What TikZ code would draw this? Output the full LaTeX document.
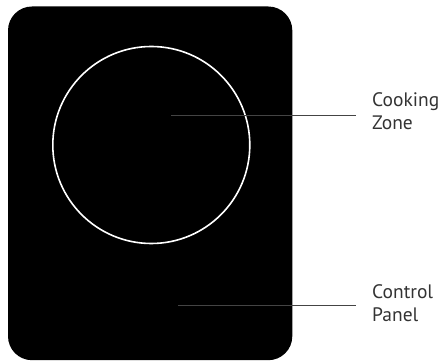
\documentclass[tikz,border=0pt]{standalone}
\usepackage{fontspec}
\setmainfont{PT Sans}
\definecolor{leader}{HTML}{444444}
\definecolor{labeltext}{HTML}{333333}
\begin{document}
\begin{tikzpicture}[x=1pt,y=1pt,
  leaderline/.style={draw=leader,line width=0.9pt},
  calloutlabel/.style={anchor=base west,inner sep=0pt,align=left,text=labeltext,
    font=\fontsize{19.5}{23.3}\selectfont}]
\useasboundingbox (0,0) rectangle (445,361);
% appliance body
\fill[black,rounded corners=24pt] (8,0.8) rectangle (292.3,354.5);
% cooking zone ring
\node[circle,draw=white,line width=1.6pt,minimum size=197pt,inner sep=0pt] (zone) at (151.3,216) {};
% callout labels (anchored at the baseline of their last line)
\node[calloutlabel] (zonelbl) at (372,231) {Cooking\\Zone};
\node[calloutlabel] (panellbl) at (372,39) {Control\\Panel};
% leader lines
\coordinate (zonept) at (171,245.3);
\coordinate (zoneend) at (356,245.3);
\coordinate (panelpt) at (178,56);
\coordinate (panelend) at (356,56);
\draw[leaderline] (zonept) -- (zoneend);
\draw[leaderline] (panelpt) -- (panelend);
\end{tikzpicture}
\end{document}
